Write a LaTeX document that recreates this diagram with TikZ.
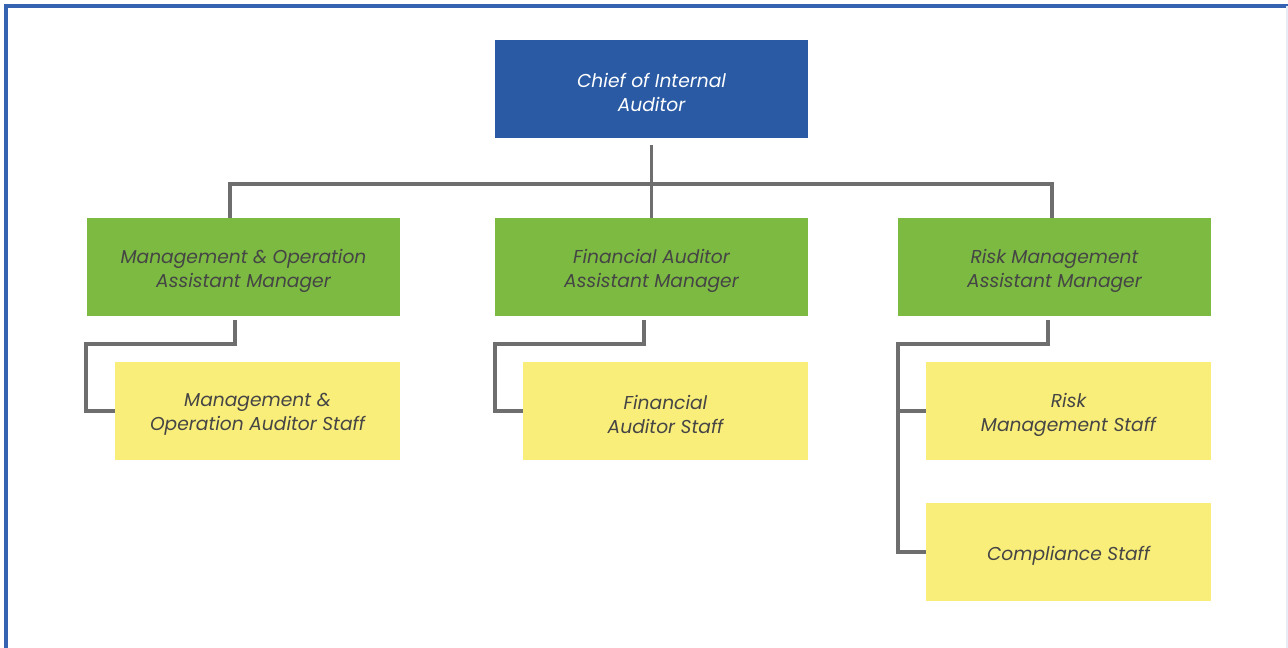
\documentclass[tikz,border=0pt]{standalone}
\usepackage{fontspec}
\setsansfont{Poppins}
\usetikzlibrary{positioning}

\definecolor{chiefblue}{HTML}{2A5AA3}
\definecolor{framebl}{HTML}{3563B1}
\definecolor{mgrgreen}{HTML}{7CBA42}
\definecolor{staffyel}{HTML}{FAEE7A}
\definecolor{linkgray}{HTML}{6E6E6E}
\definecolor{txtgray}{HTML}{454545}

\tikzset{
  boxtext/.style={align=center, yshift=-2.6pt, inner sep=0pt,
    font=\sffamily\itshape\fontsize{14}{18}\selectfont, text=txtgray},
  boxshape/.style={rectangle, inner sep=0pt, minimum width=313*0.75pt, minimum height=98*0.75pt},
  box/.style={boxshape, label={[boxtext]center:#1}},
  chiefbox/.style={boxshape, fill=chiefblue, label={[boxtext, text=white]center:#1}},
  mgrbox/.style={box=#1, fill=mgrgreen},
  staffbox/.style={box=#1, fill=staffyel, minimum width=285*0.75pt},
  link/.style={draw=linkgray, line width=2.3pt}
}

\begin{document}
\begin{tikzpicture}[x=0.75pt, y=-0.75pt, line cap=butt, line join=miter]

                \useasboundingbox (0,0) rectangle (1288,648);

                % frame
                \draw[framebl, line width=2.4pt] (6,648) -- (6,6) -- (1288,6);
                \draw[framebl!12, line width=1pt] (1287,6) -- (1287,648);

                % boxes
                \node[chiefbox={Chief of Internal\\Auditor}] (chief) at (651.5,89) {};

                \node[mgrbox={Management \& Operation\\Assistant Manager}] (mgrMO) at (243.5,267) {};
                \node[mgrbox={Financial Auditor\\Assistant Manager}] (mgrFA) at (651.5,267) {};
                \node[mgrbox={Risk Management\\Assistant Manager}] (mgrRM) at (1054.5,267) {};

                \node[staffbox={Management \&\\Operation Auditor Staff}] (stMO) at (257.5,411) {};
                \node[staffbox={Financial\\Auditor Staff}] (stFA) at (665.5,411) {};
                \node[staffbox={Risk\\Management Staff}] (stRM) at (1068.5,411) {};
                \node[staffbox={Compliance Staff}] (stCS) at (1068.5,552) {};

                % top level lines
                \coordinate (busL) at (230,184);
                \coordinate (busR) at (1052,184);
                \draw[link] (651.5,145) -- (mgrFA.north);
                \draw[link] (busL |- mgrMO.north) -- (busL) -- (busR) -- (busR |- mgrRM.north);

                % staff lines
                \coordinate (moA) at (235,344);
                \coordinate (moB) at (86,344);
                \draw[link] (235,320) -- (moA) -- (moB) |- (stMO.west);

                \coordinate (faA) at (644,344);
                \coordinate (faB) at (495,344);
                \draw[link] (644,320) -- (faA) -- (faB) |- (stFA.west);

                \coordinate (rmA) at (1048,344);
                \coordinate (rmB) at (898,344);
                \draw[link] (1048,320) -- (rmA) -- (rmB) |- (stCS.west);
                \draw[link] (896,411) -- (stRM.west);

\end{tikzpicture}
\end{document}
